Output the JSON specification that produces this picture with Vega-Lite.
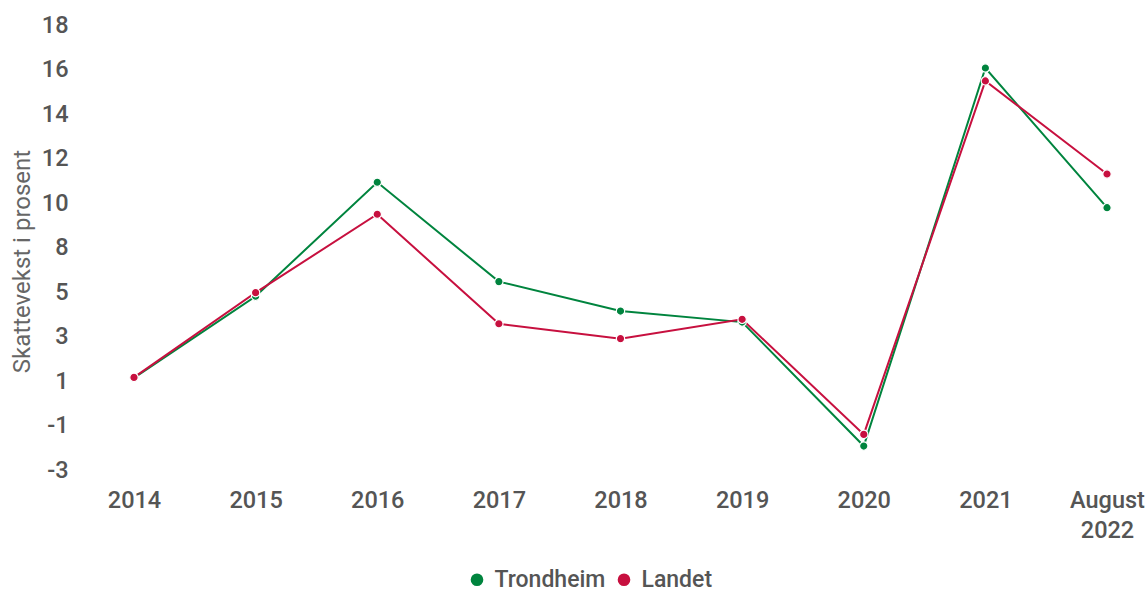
{
  "$schema": "https://vega.github.io/schema/vega-lite/v6.json",
  "autosize": "none",
  "width": 1046,
  "height": 445,
  "padding": {"left": 97.5, "top": 25, "right": 4.5, "bottom": 122},
  "config": {
    "view": {"stroke": null},
    "font": "Roboto"
  },
  "data": {
    "values": [
      {"år": "2014", "serie": "Trondheim", "verdi": 1.35},
      {"år": "2015", "serie": "Trondheim", "verdi": 5.2},
      {"år": "2016", "serie": "Trondheim", "verdi": 10.58},
      {"år": "2017", "serie": "Trondheim", "verdi": 5.89},
      {"år": "2018", "serie": "Trondheim", "verdi": 4.5},
      {"år": "2019", "serie": "Trondheim", "verdi": 3.98},
      {"år": "2020", "serie": "Trondheim", "verdi": -1.87},
      {"år": "2021", "serie": "Trondheim", "verdi": 15.97},
      {"år": "August 2022", "serie": "Trondheim", "verdi": 9.38},
      {"år": "2014", "serie": "Landet", "verdi": 1.37},
      {"år": "2015", "serie": "Landet", "verdi": 5.37},
      {"år": "2016", "serie": "Landet", "verdi": 9.07},
      {"år": "2017", "serie": "Landet", "verdi": 3.9},
      {"år": "2018", "serie": "Landet", "verdi": 3.2},
      {"år": "2019", "serie": "Landet", "verdi": 4.11},
      {"år": "2020", "serie": "Landet", "verdi": -1.32},
      {"år": "2021", "serie": "Landet", "verdi": 15.36},
      {"år": "August 2022", "serie": "Landet", "verdi": 10.97}
    ]
  },
  "encoding": {
    "x": {
      "field": "år",
      "type": "ordinal",
      "sort": null,
      "scale": {"type": "point", "padding": 0.3},
      "axis": {
        "title": null,
        "labelAngle": 0,
        "domain": false,
        "ticks": false,
        "grid": false,
        "labelFontSize": 23.5,
        "labelFontWeight": 500,
        "labelColor": "#555555",
        "labelPadding": 18,
        "labelLineHeight": 30,
        "labelExpr": "datum.label == 'August 2022' ? ['August', '2022'] : datum.label"
      }
    },
    "y": {
      "field": "verdi",
      "type": "quantitative",
      "scale": {"domain": [-3, 18], "nice": false, "zero": false},
      "axis": {
        "title": "Skattevekst i prosent",
        "values": [-3, -0.9, 1.2, 3.3, 5.4, 7.5, 9.6, 11.7, 13.8, 15.9, 18],
        "labelExpr": "replace(format(datum.value, '.0f'), '\u2212', '-')",
        "domain": false,
        "ticks": false,
        "grid": false,
        "labelFontSize": 23.5,
        "labelFontWeight": 500,
        "labelColor": "#555555",
        "labelPadding": 29.5,
        "titleFontSize": 24,
        "titleFontWeight": "normal",
        "titleColor": "#666666",
        "titleX": -75.5,
        "titleY": 236,
        "titleBaseline": "middle"
      }
    },
    "color": {
      "field": "serie",
      "type": "nominal",
      "sort": ["Trondheim", "Landet"],
      "scale": {"domain": ["Trondheim", "Landet"], "range": ["#00843e", "#c7103f"]},
      "legend": {
        "title": null,
        "orient": "none",
        "direction": "horizontal",
        "legendX": 368,
        "legendY": 543,
        "symbolType": "circle",
        "symbolSize": 160,
        "symbolStrokeWidth": 0,
        "labelFontSize": 23,
        "labelFontWeight": 500,
        "labelColor": "#555555",
        "columnPadding": 7,
        "labelOffset": 6
      }
    }
  },
  "layer": [
    {"mark": {"type": "line", "strokeWidth": 2}},
    {"mark": {"type": "point", "filled": true, "size": 70, "stroke": "white", "strokeWidth": 1.2, "opacity": 1}}
  ]
}
